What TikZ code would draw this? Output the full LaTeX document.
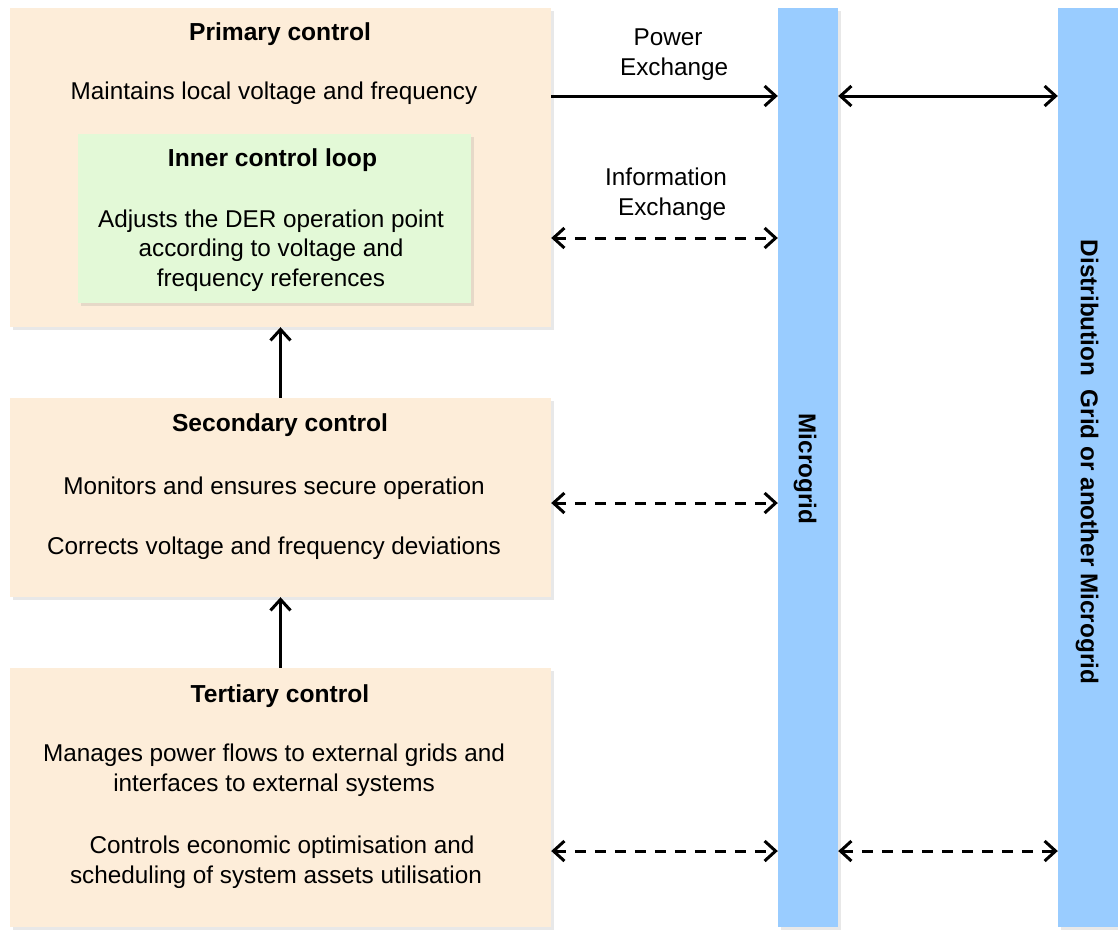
\documentclass[tikz,border=0pt]{standalone}
\usepackage{fontspec}
\setmainfont{Liberation Sans}
\usetikzlibrary{arrows.meta,shadows}
\definecolor{peach}{HTML}{FDEDD9}
\definecolor{mint}{HTML}{E3F9D7}
\definecolor{skyblue}{HTML}{99CCFF}
\begin{document}
\begin{tikzpicture}[x=1pt,y=-1pt,
  font=\fontsize{24.3}{29.5}\selectfont,
  boxshadow/.style={drop shadow={opacity=0.18,shadow xshift=2.5pt,shadow yshift=-2.5pt}},
  ctrlbox/.style={rectangle,draw=none,fill=peach,inner sep=0pt,minimum width=541pt,boxshadow},
  loopbox/.style={rectangle,draw=none,fill=mint,inner sep=0pt,boxshadow},
  bar/.style={rectangle,draw=none,fill=skyblue,inner sep=0pt,minimum width=60pt,minimum height=919pt,boxshadow},
  title/.style={anchor=base,font=\fontsize{24.6}{29.5}\selectfont\bfseries},
  body/.style={anchor=base,align=center},
  barlabel/.style={rotate=-90,font=\fontsize{24.3}{29.5}\selectfont\bfseries},
  tipstyle/.tip={Straight Barb[length=11pt,width=20pt]},
  flow/.style={line width=3pt,-tipstyle},
  flowboth/.style={line width=3pt,tipstyle-tipstyle},
  info/.style={line width=3pt,dash pattern=on 11pt off 9pt,tipstyle-tipstyle}]
\useasboundingbox (0,0) rectangle (1118,930);

% control level boxes
\node[ctrlbox,minimum height=319pt] (primary) at (280.5,167.5) {};
\node[loopbox,minimum width=393pt,minimum height=169pt] (inner) at (274.5,218.5) {};
\node[ctrlbox,minimum height=199pt] (secondary) at (280.5,497.5) {};
\node[ctrlbox,minimum height=259pt] (tertiary) at (280.5,797.5) {};

% vertical bars
\node[bar] (mg) at (808,467.5) {};
\node[bar] (dg) at (1088,467.5) {};
\node[barlabel] (mglabel) at (805,469) {Microgrid};
\node[barlabel] (dglabel) at (1087,462) {Distribution\hspace{0.28em} Grid or another Microgrid};

% texts inside the boxes (a multi-line node sits on the baseline of its last line)
\node[title] (ptitle) at (280,40) {Primary control};
\node[body] (ptext) at (274,99) {Maintains local voltage and frequency};
\node[title] (ititle) at (272.5,166) {Inner control loop};
\node[body] (itext) at (271,286) {Adjusts the DER operation point\\according to voltage and\\frequency references};
\node[title] (stitle) at (280,431) {Secondary control};
\node[body] (stext1) at (274,494) {Monitors and ensures secure operation};
\node[body] (stext2) at (274,554) {Corrects voltage and frequency deviations};
\node[title] (ttitle) at (280,702) {Tertiary control};
\node[body] (ttext1) at (274,791) {Manages power flows to external grids and\\interfaces to external systems};
\node[body] (ttext2) at (276,883) {\hspace{0.5em}Controls economic optimisation and\\scheduling of system assets utilisation};

% exchange labels
\node[body] (pwlabel) at (668,75) {Power\\\hspace{0.5em}Exchange};
\node[body] (iflabel) at (666,215) {Information\\\hspace{0.5em}Exchange};

% connector heights
\coordinate (ypower) at (0,96);
\coordinate (yinfo) at (0,238);
\coordinate (ysec) at (0,503);
\coordinate (yter) at (0,851);

% control hierarchy
\draw[flow] (secondary.north) -- (primary.south);
\draw[flow] (tertiary.north) -- (secondary.south);

% power and information exchange
\draw[flow] (primary.east |- ypower) -- (mg.west |- ypower);
\draw[flowboth] (mg.east |- ypower) -- (dg.west |- ypower);
\draw[info] (primary.east |- yinfo) -- (mg.west |- yinfo);
\draw[info] (secondary.east |- ysec) -- (mg.west |- ysec);
\draw[info] (tertiary.east |- yter) -- (mg.west |- yter);
\draw[info] (mg.east |- yter) -- (dg.west |- yter);
\end{tikzpicture}
\end{document}
